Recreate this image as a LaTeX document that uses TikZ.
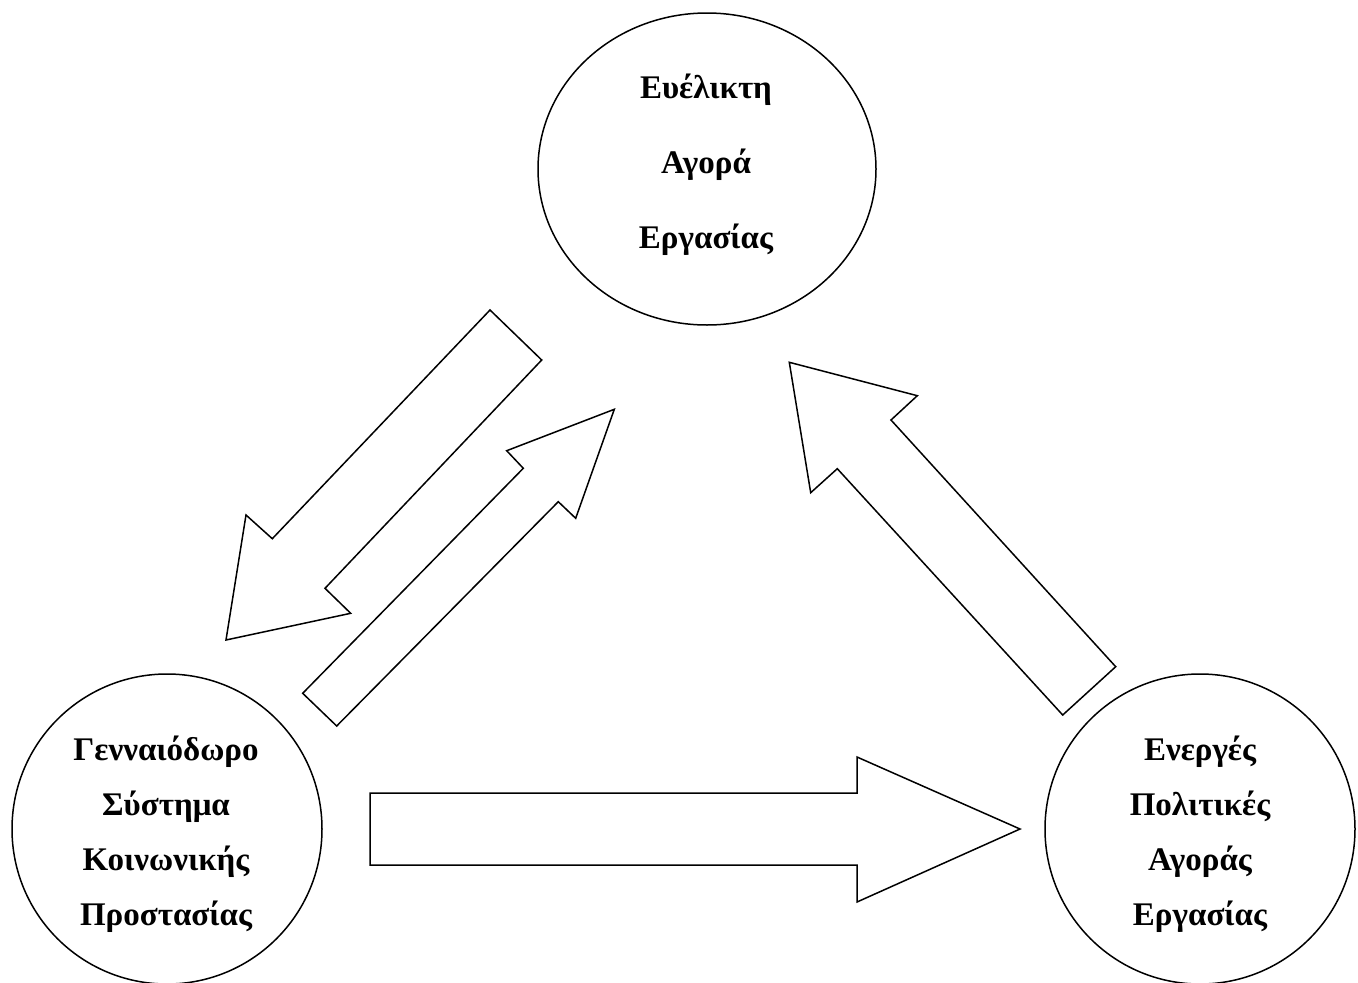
\documentclass[tikz,border=0pt]{standalone}
\usepackage{fontspec}
\setmainfont{Liberation Serif}
\usetikzlibrary{shapes.geometric}
\tikzset{
  ring/.style={draw=black, line width=1.5pt, circle, inner sep=0pt, minimum size=310pt},
  oval/.style={draw=black, line width=1.5pt, ellipse, inner sep=0pt, minimum width=338pt, minimum height=312pt},
  word/.style={anchor=base, inner sep=0pt, font=\fontsize{33}{33}\selectfont\bfseries},
  blockarrow/.style={draw=black, line width=1.5pt, line join=miter, fill=white}
}
\begin{document}
\begin{tikzpicture}[x=1pt,y=-1pt]
\useasboundingbox (0,0) rectangle (1358,983);
% circles
\node[oval] (T) at (707,169) {};
\node[ring] (L) at (167,829) {};
\node[ring] (R) at (1200,829) {};
% texts
\node[word] (t1) at (706,98) {Ευέλικτη};
\node[word] (t2) at (706,173) {Αγορά};
\node[word] (t3) at (706,248) {Εργασίας};
\node[word] (l1) at (166,760) {Γενναιόδωρο};
\node[word] (l2) at (166,815) {Σύστημα};
\node[word] (l3) at (166,870) {Κοινωνικής};
\node[word] (l4) at (166,925) {Προστασίας};
\node[word] (r1) at (1200,760) {Ενεργές};
\node[word] (r2) at (1200,815) {Πολιτικές};
\node[word] (r3) at (1200,870) {Αγοράς};
\node[word] (r4) at (1200,925) {Εργασίας};
% block arrow from top circle to left circle
\draw[blockarrow] (490,310) -- (541.7,360) -- (325,588.3) -- (350.7,613.3) -- (226,640)
  -- (246,515) -- (272.3,538.7) -- cycle;
% block arrow from left circle to top circle
\draw[blockarrow] (302.7,693.3) -- (336.7,726) -- (558.3,501.7) -- (575.7,518.3) -- (614.3,409.3)
  -- (506.7,450.7) -- (523.3,468.3) -- cycle;
% block arrow from right circle to top circle
\draw[blockarrow] (789.3,362.3) -- (917.3,395.7) -- (891,420) -- (1115.7,666.7) -- (1062.7,715)
  -- (837.3,468.7) -- (810.7,492.7) -- cycle;
% block arrow from left circle to right circle
\draw[blockarrow] (370,793) -- (857,793) -- (857,757) -- (1020,829) -- (857,902)
  -- (857,865) -- (370,865) -- cycle;
\end{tikzpicture}
\end{document}
